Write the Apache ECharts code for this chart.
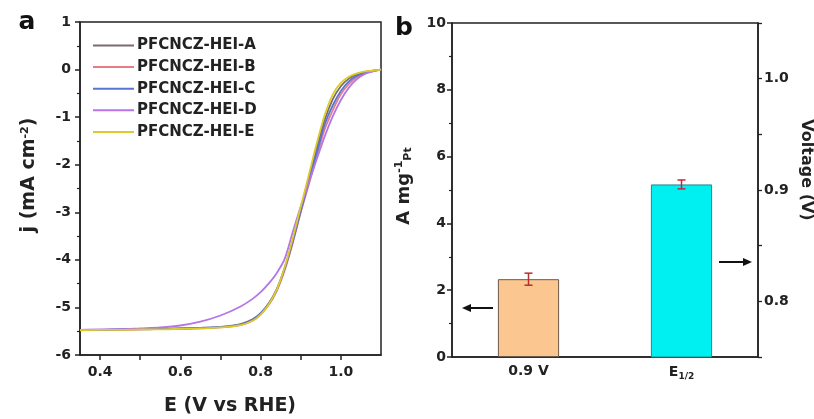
<!DOCTYPE html>
<html>
<head>
<meta charset="utf-8">
<script src="https://cdn.jsdelivr.net/npm/echarts@6/dist/echarts.min.js"></script>
<style>html,body{margin:0;padding:0;background:#fff}#c{width:814px;height:419px}</style>
</head>
<body>
<div id="c"></div>
<script>
// ---------- data ----------
const potential = [0.35,0.40,0.45,0.50,0.55,0.60,0.65,0.70,0.75,0.78,0.80,0.82,0.84,0.86,0.88,0.90,0.92,0.94,0.96,0.98,1.00,1.02,1.04,1.06,1.08,1.10];
const seriesNames = ['PFCNCZ-HEI-A','PFCNCZ-HEI-B','PFCNCZ-HEI-C','PFCNCZ-HEI-D','PFCNCZ-HEI-E'];
const jA = [-5.47,-5.47,-5.46,-5.46,-5.45,-5.44,-5.43,-5.41,-5.35,-5.25,-5.12,-4.92,-4.62,-4.17,-3.60,-2.95,-2.30,-1.65,-1.05,-0.62,-0.35,-0.19,-0.10,-0.05,-0.02,0];
const jB = [-5.48,-5.47,-5.47,-5.46,-5.45,-5.45,-5.44,-5.42,-5.37,-5.28,-5.15,-4.95,-4.66,-4.22,-3.65,-3.00,-2.42,-1.82,-1.25,-0.85,-0.52,-0.30,-0.16,-0.08,-0.03,0];
const jC = [-5.47,-5.47,-5.46,-5.45,-5.45,-5.44,-5.43,-5.41,-5.36,-5.26,-5.13,-4.93,-4.63,-4.18,-3.62,-2.98,-2.36,-1.75,-1.15,-0.75,-0.45,-0.25,-0.13,-0.07,-0.03,0];
const jD = [-5.47,-5.46,-5.46,-5.44,-5.42,-5.38,-5.30,-5.17,-4.98,-4.82,-4.68,-4.50,-4.28,-3.98,-3.42,-2.88,-2.38,-1.88,-1.40,-0.98,-0.64,-0.38,-0.20,-0.09,-0.04,0];
const jE = [-5.48,-5.47,-5.47,-5.46,-5.46,-5.45,-5.44,-5.42,-5.37,-5.28,-5.15,-4.94,-4.63,-4.15,-3.55,-2.88,-2.22,-1.55,-0.95,-0.52,-0.28,-0.15,-0.08,-0.04,-0.02,0];
const lineColors = ['#7a6b73','#e57c86','#5676d2','#b476e6','#dccb2c'];
const xTickValues = [0.4,0.5,0.6,0.7,0.8,0.9,1.0];
const xLabelValues = [0.4,0.6,0.8,1.0];

const barCategories = ['0.9 V','E1/2'];
const massActivity = 2.33, massActivityErr = 0.18;   // A mg-1 Pt (left axis)
const halfWave = 0.905, halfWaveErr = 0.004;          // V (right axis)

// ---------- chart ----------
const chart = echarts.init(document.getElementById('c'));
const FONT = 'DejaVu Sans';
const axisCol = '#222';
const tickLabel = {color:'#222', fontFamily:FONT, fontWeight:'bold', fontSize:14};

const curves = [jA,jB,jC,jD,jE].map((arr,i)=>({
  name: seriesNames[i], type:'line', xAxisIndex:0, yAxisIndex:0,
  data: potential.map((e,k)=>[e, arr[k]]),
  showSymbol:false, smooth:0.3, lineStyle:{width:1.8, color:lineColors[i]},
  itemStyle:{color:lineColors[i]}, z: 2+i
}));

function errRender(color){
  return function(params, api){
    const x = api.value(0);
    const lo = api.coord([x, api.value(1)]);
    const hi = api.coord([x, api.value(2)]);
    const w = 4;
    const st = {stroke:color, lineWidth:1.5};
    return {type:'group', children:[
      {type:'line', shape:{x1:lo[0],y1:lo[1],x2:hi[0],y2:hi[1]}, style:st},
      {type:'line', shape:{x1:lo[0]-w,y1:lo[1],x2:lo[0]+w,y2:lo[1]}, style:st},
      {type:'line', shape:{x1:hi[0]-w,y1:hi[1],x2:hi[0]+w,y2:hi[1]}, style:st}
    ]};
  };
}

const option = {
  animation:false,
  backgroundColor:'#fff',
  grid:[
    {left:80, top:22, width:301, height:333, show:true, borderColor:axisCol, borderWidth:1.5, backgroundColor:'transparent'},
    {left:452, top:23, width:306, height:334, show:true, borderColor:axisCol, borderWidth:1.5, backgroundColor:'transparent'}
  ],
  legend:{
    data: seriesNames, orient:'vertical', left:88, top:33,
    icon:'rect', itemWidth:41, itemHeight:2, itemGap:6.6,
    textStyle:{fontFamily:FONT, fontWeight:'bold', fontSize:15, color:'#222', lineHeight:14, padding:[0,0,0,-2]},
    selectedMode:false
  },
  xAxis:[
    {type:'value', gridIndex:0, min:0.35, max:1.1, interval:0.05,
     axisLine:{onZero:false, lineStyle:{color:axisCol, width:1.5}},
     axisTick:{show:true, length:5, inside:false, lineStyle:{color:axisCol, width:1.5}, customValues:xTickValues},
     minorTick:{show:false},
     axisLabel:Object.assign({margin:10, customValues:xLabelValues, formatter:v=>v.toFixed(1)}, tickLabel),
     splitLine:{show:false}},
    {type:'category', gridIndex:1, data:barCategories,
     axisLine:{lineStyle:{color:axisCol, width:1.5}},
     axisTick:{show:false},
     axisLabel:Object.assign({margin:7, formatter:v=> v==='E1/2' ? '{e|E}{s|1/2}' : v,
       rich:{e:{fontFamily:FONT, fontWeight:'bold', fontSize:14, color:'#222'},
             s:{fontFamily:FONT, fontWeight:'bold', fontSize:9, color:'#222', verticalAlign:'bottom', padding:[8,0,0,0]}}}, tickLabel),
     splitLine:{show:false}}
  ],
  yAxis:[
    {type:'value', gridIndex:0, min:-6, max:1, interval:1,
     axisLine:{show:true, onZero:false, lineStyle:{color:axisCol, width:1.5}},
     axisTick:{show:true, length:5, lineStyle:{color:axisCol, width:1.5}},
     minorTick:{show:true, splitNumber:2, length:3, lineStyle:{color:axisCol, width:1.2}},
     axisLabel:Object.assign({margin:9}, tickLabel),
     splitLine:{show:false}},
    {type:'value', gridIndex:1, min:0, max:10, interval:2, position:'left',
     axisLine:{show:true, lineStyle:{color:axisCol, width:1.5}},
     axisTick:{show:true, length:5, lineStyle:{color:axisCol, width:1.5}},
     minorTick:{show:true, splitNumber:2, length:3, lineStyle:{color:axisCol, width:1.2}},
     axisLabel:Object.assign({margin:6}, tickLabel),
     splitLine:{show:false}},
    {type:'value', gridIndex:1, min:0.75, max:1.05, interval:0.05, position:'right',
     axisLine:{show:true, lineStyle:{color:axisCol, width:1.5}},
     axisTick:{show:true, length:4, lineStyle:{color:axisCol, width:1.3}},
     axisLabel:Object.assign({margin:6, formatter:v=> (Math.abs(v*10-Math.round(v*10))<1e-6 ? v.toFixed(1) : '')}, tickLabel),
     splitLine:{show:false}}
  ],
  series:[
    ...curves,
    {type:'bar', xAxisIndex:1, yAxisIndex:1, data:[massActivity,'-'], barWidth:'40%', barGap:'-100%',
     itemStyle:{color:'#fcc690', borderColor:'#6b5a48', borderWidth:1}, z:2},
    {type:'bar', xAxisIndex:1, yAxisIndex:2, data:['-',halfWave], barWidth:'40%', barGap:'-100%',
     itemStyle:{color:'#00f0f2', borderColor:'#1f8a8c', borderWidth:1}, z:2},
    {type:'custom', xAxisIndex:1, yAxisIndex:1, renderItem:errRender('#b3302c'),
     data:[[0, massActivity-massActivityErr, massActivity+massActivityErr]], z:5},
    {type:'custom', xAxisIndex:1, yAxisIndex:2, renderItem:errRender('#d0203a'),
     data:[[1, halfWave-halfWaveErr, halfWave+halfWaveErr]], z:5}
  ],
  graphic:[
    {type:'text', x:27, y:22, style:{text:'a', fontFamily:FONT, fontWeight:'bold', fontSize:25, fill:'#111', align:'center', verticalAlign:'middle'}},
    {type:'text', x:404, y:28, style:{text:'b', fontFamily:FONT, fontWeight:'bold', fontSize:25, fill:'#111', align:'center', verticalAlign:'middle'}},
    {type:'text', x:230, y:406, style:{text:'E (V vs RHE)', fontFamily:FONT, fontWeight:'bold', fontSize:19, fill:'#222', align:'center', verticalAlign:'middle'}},
    {type:'text', x:29, y:175, rotation:Math.PI/2,
     style:{text:'{a|j (mA cm}{s|-2}{a|)}', align:'center', verticalAlign:'middle',
       rich:{a:{fontFamily:FONT, fontWeight:'bold', fontSize:19, fill:'#222'},
             s:{fontFamily:FONT, fontWeight:'bold', fontSize:11, fill:'#222', verticalAlign:'top', padding:[0,0,8,0]}}}},
    {type:'text', x:404, y:186, rotation:Math.PI/2,
     style:{text:'{a|A mg}{s|-1}{b|Pt}', align:'center', verticalAlign:'middle',
       rich:{a:{fontFamily:FONT, fontWeight:'bold', fontSize:18, fill:'#222'},
             s:{fontFamily:FONT, fontWeight:'bold', fontSize:11, fill:'#222', padding:[0,0,10,0]},
             b:{fontFamily:FONT, fontWeight:'bold', fontSize:11, fill:'#222', padding:[9,0,0,0]}}}},
    {type:'text', x:806, y:170, rotation:-Math.PI/2,
     style:{text:'Voltage (V)', fontFamily:FONT, fontWeight:'bold', fontSize:16, fill:'#222', align:'center', verticalAlign:'middle'}},
    // arrows
    {type:'group', children:[
      {type:'line', shape:{x1:469, y1:308, x2:493, y2:308}, style:{stroke:'#111', lineWidth:2}},
      {type:'polygon', shape:{points:[[462,308],[471,304],[471,312]]}, style:{fill:'#111'}},
      {type:'line', shape:{x1:719, y1:262, x2:744, y2:262}, style:{stroke:'#111', lineWidth:2}},
      {type:'polygon', shape:{points:[[752,262],[743,258],[743,266]]}, style:{fill:'#111'}}
    ]}
  ]
};
chart.setOption(option);
</script>
</body>
</html>
